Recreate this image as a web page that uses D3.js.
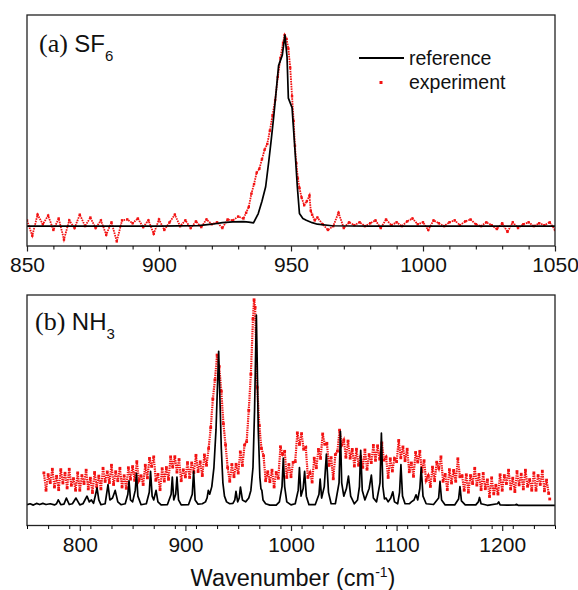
<!DOCTYPE html>
<html>
<head>
<meta charset="utf-8">
<script src="https://cdn.jsdelivr.net/npm/d3@7"></script>
<style>
  body { margin: 0; background: #fff; }
  svg { display: block; }
</style>
</head>
<body>
<div id="chart"></div>
<script>
// ---- panel (a) SF6 : [wavenumber, intensity] ----
var refA = [[850,0],[900,0],[915,.003],[920,.01],[924,.018],[928,.022],[932,.024],[934,.021],[935.8,.017],
  [937.6,.066],[939,.13],[940.4,.206],[941.5,.33],[942.5,.45],[943.5,.58],[944.3,.695],[945.3,.84],[946.7,.895],
  [947.7,1.0],[948.5,.886],[949,.67],[950.4,.62],[951.5,.40],[952.4,.206],[953.2,.066],[954.5,.04],[955.8,.031],
  [958,.018],[960,.01],[965.5,.002],[980,0],[1050,0]];

var expA = [[850,.03],[852,-.05],[854,.06],[856,.01],[858,.055],[860,-.02],[862,.04],[864,-.07],[866,.03],[868,-.01],
  [870,.06],[872,0],[874,.045],[876,-.01],[878,.03],[880,-.045],[882,.02],[884,-.08],[886,.03],[888,.035],
  [890,.015],[892,.04],[894,-.005],[896,.03],[898,-.04],[900,.035],[902,-.02],[904,.02],[906,.06],[908,0],
  [910,.03],[912,-.01],[914,.025],[916,-.005],[918,.035],[920,.01],[922,.02],[924,-.01],[926,.035],[928,.03],
  [930,.05],[932,.04],[933,.07],[934,.10],[935,.17],[936,.22],[937,.28],[938,.30],[939,.35],[940,.40],
  [941,.43],[942,.50],[943,.58],[944,.66],[945,.78],[946,.88],[947,.96],[947.6,1.0],[948.3,.98],[949,.93],
  [949.7,.83],[950.4,.68],[951,.55],[951.5,.42],[952,.33],[952.6,.25],[953.2,.20],[954,.15],[955,.11],[956,.13],
  [957,.16],[957.5,.08],[958,.06],[959,.03],[960,.045],[962,.01],[964,-.02],[966,0],[968,.07],[970,-.01],
  [972,.02],[974,.005],[976,.02],[978,0],[980,.015],[982,.03],[984,-.01],[986,.035],[988,.005],[990,.02],
  [992,0],[994,.025],[996,.04],[998,.01],[1000,.02],[1002,-.02],[1004,.03],[1006,.015],[1008,0],[1010,.02],
  [1012,.03],[1014,.005],[1016,.025],[1018,.035],[1020,.01],[1022,0],[1024,.02],[1026,.005],[1028,-.015],[1030,.015],
  [1032,-.03],[1034,.02],[1036,-.01],[1038,.01],[1040,.02],[1042,0],[1044,.015],[1046,.005],[1048,.02],[1050,-.02]];

// ---- panel (b) NH3 ----
var refB = [[750,.005],[753,.01],[756,.003],[759,.012],[762,.006],[765,.012],[768,.006],[772,.01],[776,.004],
  [778,.01],[779.6,.031],[782,.005],[785,.008],[787.3,.04],[790,.006],[793,.01],[796.4,.04],[800,.004],[803,.01],
  [806.8,.05],[809,.02],[811,.03],[813,.012],[815,.06],[816.3,.094],[818,.03],[820,.005],[824,.01],[826.7,.11],
  [828.5,.03],[831,.04],[833.5,.08],[836,.02],[839,.005],[843,.01],[845.5,.06],[846.6,.13],[848,.03],[850,.02],
  [852.5,.08],[853.7,.17],[855,.05],[858,.005],[863,.01],[865.8,.07],[867,.18],[868.5,.05],[870,.03],[872.2,.08],
  [874,.02],[877,.004],[883,.006],[886.5,.06],[887.6,.15],[889,.03],[890.8,.06],[892,.15],[893.5,.03],[896,.004],
  [903,.006],[906.5,.06],[907.8,.18],[909.2,.03],[912,.008],[916,.01],[919,.02],[920.5,.04],[921.7,.08],[923,.06],
  [925,.1],[927,.2],[929,.4],[930.5,.65],[931.5,.81],[932.5,.6],[934,.3],[935.5,.12],[937,.05],[939,.02],
  [942,.01],[945,.012],[946.8,.03],[947.9,.075],[949.5,.02],[951,.04],[952.1,.098],[954,.03],[957,.02],[960,.04],
  [962,.08],[964,.2],[965.5,.5],[966.5,.8],[967.2,1.0],[968,.75],[969,.4],[970.5,.15],[971.5,.09],[972.4,.08],
  [973.5,.03],[976,.01],[980,.003],[986,.003],[989,.02],[991.5,.1],[992.7,.25],[994,.1],[996,.02],[1000,.004],
  [1004,.01],[1006.8,.08],[1008,.2],[1009.5,.05],[1011.5,.09],[1012.9,.18],[1014.5,.05],[1017,.005],[1023,.006],
  [1026.5,.06],[1027.6,.14],[1029,.04],[1031.5,.1],[1033.5,.27],[1035.5,.07],[1038,.01],[1042,.01],[1045.5,.12],
  [1046.8,.39],[1048,.12],[1050,.05],[1052.5,.09],[1054.4,.155],[1056.5,.05],[1060,.01],[1063,.03],[1064.8,.1],
  [1066,.29],[1067.5,.08],[1070,.03],[1074,.09],[1076.1,.16],[1078,.04],[1081,.02],[1084.3,.12],[1085.6,.38],
  [1087,.1],[1088.5,.035],[1090,.04],[1092,.02],[1094.5,.04],[1096.4,.073],[1098,.02],[1101,.01],[1102.8,.07],
  [1104.1,.215],[1105.6,.05],[1108,.01],[1112,.01],[1114,.02],[1116.5,.03],[1118.4,.057],[1120,.03],[1122,.09],
  [1123.3,.2],[1125,.05],[1128,.01],[1135,.006],[1139.8,.04],[1141.1,.127],[1142.6,.03],[1146,.004],[1155,.004],
  [1158.7,.035],[1160,.1],[1161.4,.025],[1165,.004],[1175,.004],[1177.4,.02],[1178.5,.043],[1180,.01],[1186,.002],
  [1195.5,.01],[1196.7,.02],[1198,.004],[1205,.003],[1212.5,.004],[1213.5,.007],[1215,.002],[1250,.002]];

var expB = [[766,.172],[768,.081],[770,.163],[772,.121],[774,.191],[776,.098],[778,.154],[780,.084],[782,.189],[784,.119],
  [786,.17],[788,.093],[790,.191],[792,.107],[794,.142],[796,.081],[798,.172],[800,.081],[802,.158],[804,.116],
  [806,.186],[808,.088],[810,.144],[812,.069],[814,.174],[816,.099],[818,.155],[820,.088],[822,.196],[824,.127],
  [826,.177],[828,.121],[830,.212],[832,.111],[834,.178],[836,.131],[838,.196],[840,.098],[842,.157],[844,.091],
  [846,.199],[848,.139],[850,.205],[852,.133],[854,.231],[856,.132],[858,.157],[860,.111],[862,.212],[864,.146],
  [866,.248],[868,.206],[870,.256],[872,.133],[874,.164],[876,.084],[878,.194],[880,.129],[882,.20],[884,.138],
  [886,.256],[888,.202],[890,.257],[892,.176],[894,.242],[896,.131],[898,.188],[900,.151],[902,.226],[904,.148],
  [906,.224],[908,.174],[910,.264],[912,.179],[914,.23],[916,.158],[918,.266],[920,.212],[922,.30],[924,.41],
  [926,.56],[928,.66],[930,.79],[932,.73],[934,.60],[936,.43],[938,.32],[940,.20],[942,.128],[944,.216],
  [946,.152],[948,.217],[950,.171],[952,.282],[954,.211],[956,.318],[958,.336],[960,.50],[962,.69],[964,.98],
  [965,1.08],[966,1.04],[968,.62],[970,.42],[972,.30],[974,.262],[976,.131],[978,.178],[980,.126],[982,.186],
  [984,.098],[986,.174],[988,.144],[990,.309],[992,.269],[994,.285],[996,.148],[998,.216],[1000,.152],[1002,.227],
  [1004,.231],[1006,.382],[1008,.321],[1010,.378],[1012,.296],[1014,.306],[1016,.148],[1018,.174],[1020,.124],[1022,.249],
  [1024,.199],[1026,.295],[1028,.248],[1030,.376],[1032,.322],[1034,.327],[1036,.211],[1038,.252],[1040,.141],[1042,.268],
  [1044,.286],[1046,.396],[1048,.318],[1050,.344],[1052,.254],[1054,.339],[1056,.249],[1058,.295],[1060,.208],[1062,.296],
  [1064,.212],[1066,.257],[1068,.201],[1070,.292],[1072,.191],[1074,.268],[1076,.226],[1078,.316],[1080,.238],[1082,.314],
  [1084,.244],[1086,.329],[1088,.239],[1090,.255],[1092,.148],[1094,.246],[1096,.182],[1098,.247],[1100,.231],[1102,.342],
  [1104,.251],[1106,.308],[1108,.236],[1110,.296],[1112,.178],[1114,.224],[1116,.154],[1118,.279],[1120,.229],[1122,.285],
  [1124,.178],[1126,.236],[1128,.132],[1130,.157],[1132,.101],[1134,.202],[1136,.131],[1138,.228],[1140,.196],[1142,.256],
  [1144,.128],[1146,.164],[1148,.084],[1150,.189],[1152,.119],[1154,.185],[1156,.128],[1158,.246],[1160,.152],[1162,.157],
  [1164,.081],[1166,.162],[1168,.071],[1170,.158],[1172,.116],[1174,.196],[1176,.108],[1178,.164],[1180,.084],[1182,.169],
  [1184,.089],[1186,.135],[1188,.048],[1190,.146],[1192,.062],[1194,.107],[1196,.061],[1198,.162],[1200,.081],[1202,.158],
  [1204,.116],[1206,.186],[1208,.088],[1210,.144],[1212,.074],[1214,.179],[1216,.109],[1218,.165],[1220,.088],[1222,.186],
  [1224,.102],[1226,.137],[1228,.081],[1230,.172],[1232,.081],[1234,.158],[1236,.111],[1238,.181],[1240,.078],[1242,.134],
  [1244,.064]];
var strayB = [[1245,.035]];

var ticksA = [850, 900, 950, 1000, 1050];
var ticksB = [800, 900, 1000, 1100, 1200];

var width = 578, height = 590;
var left = 27, right = 555;
var red = "#f21212";

var svg = d3.select("#chart")
    .append("svg")
    .attr("width", width)
    .attr("height", height)
    .style("font-family", "'Liberation Sans', Arial, sans-serif");

function drawPanel(p) {
    var x = d3.scaleLinear().domain(p.domain).range([left, right]);
    var y = d3.scaleLinear().domain([-0.104, 1.105]).range([p.bottom, p.top]);
    var g = svg.append("g");

    g.append("clipPath").attr("id", p.id)
        .append("rect")
        .attr("x", left).attr("y", p.top - 2)
        .attr("width", right - left).attr("height", p.bottom - p.top + 2);

    var plot = g.append("g").attr("clip-path", "url(#" + p.id + ")");
    var line = d3.line()
        .x(function (d) { return x(d[0]); })
        .y(function (d) { return y(d[1]); });

    // experiment: dotted red trace + square markers
    plot.append("path")
        .datum(p.exp)
        .attr("d", line)
        .attr("fill", "none")
        .attr("stroke", red)
        .attr("stroke-width", p.dotW)
        .attr("stroke-dasharray", p.dash);
    plot.selectAll(".dot")
        .data(p.exp.concat(p.stray))
        .enter()
        .append("rect")
        .attr("class", "dot")
        .attr("x", function (d) { return x(d[0]) - p.dotS / 2; })
        .attr("y", function (d) { return y(d[1]) - p.dotS / 2; })
        .attr("width", p.dotS)
        .attr("height", p.dotS)
        .attr("fill", red);

    // reference line
    plot.append("path")
        .datum(p.ref)
        .attr("d", line)
        .attr("fill", "none")
        .attr("stroke", "#000")
        .attr("stroke-width", 1.7)
        .attr("stroke-linejoin", "round");

    // frame
    g.append("rect")
        .attr("x", left).attr("y", p.top)
        .attr("width", right - left).attr("height", p.bottom - p.top)
        .attr("fill", "none")
        .attr("stroke", "#222")
        .attr("stroke-width", 1.3);

    // minor ticks
    g.append("g")
        .attr("transform", "translate(0," + p.bottom + ")")
        .call(d3.axisBottom(x).tickValues(d3.range(p.domain[0], p.domain[1] + 1, p.minor)).tickSize(3.5).tickFormat(""))
        .call(function (a) { a.select(".domain").remove(); });

    // major ticks + labels
    var ax = g.append("g")
        .attr("transform", "translate(0," + p.bottom + ")")
        .call(d3.axisBottom(x).tickValues(p.ticks).tickSize(5.5).tickPadding(6).tickFormat(d3.format("d")));
    ax.select(".domain").remove();
    ax.selectAll(".tick line").attr("stroke", "#222").attr("stroke-width", 1.2);
    ax.selectAll(".tick text")
        .attr("font-size", 21)
        .attr("font-family", "'Liberation Sans', Arial, sans-serif")
        .attr("fill", "#111");

    // panel label
    var t = g.append("text")
        .attr("x", p.labelX)
        .attr("y", p.labelY)
        .attr("fill", "#111");
    t.append("tspan")
        .attr("font-family", "'Liberation Serif', 'Times New Roman', serif")
        .attr("font-size", 26)
        .text(p.tag + " ");
    t.append("tspan")
        .attr("font-size", 24)
        .text(p.species);
    t.append("tspan")
        .attr("font-size", 15)
        .attr("dy", 9)
        .text(p.sub);
}

drawPanel({ id: "clipA", domain: [850, 1050], top: 15, bottom: 246, ticks: ticksA, minor: 10,
    ref: refA, exp: expA, stray: [], dotW: 1.8, dash: "1.6,0.9", dotS: 2.4,
    tag: "(a)", species: "SF", sub: "6", labelX: 39, labelY: 52 });
drawPanel({ id: "clipB", domain: [750, 1250], top: 295, bottom: 525.5, ticks: ticksB, minor: 20,
    ref: refB, exp: expB, stray: strayB, dotW: 2.2, dash: "1.4,0.9", dotS: 2.8,
    tag: "(b)", species: "NH", sub: "3", labelX: 35, labelY: 330 });

// legend
var lg = svg.append("g").attr("font-size", 19.5).attr("fill", "#111");
lg.append("line")
    .attr("x1", 359).attr("x2", 404).attr("y1", 58).attr("y2", 58)
    .attr("stroke", "#000").attr("stroke-width", 1.8);
lg.append("text").attr("x", 409).attr("y", 65).text("reference");
lg.append("rect")
    .attr("x", 379.5).attr("y", 81).attr("width", 3).attr("height", 3)
    .attr("fill", red);
lg.append("text").attr("x", 409).attr("y", 89).text("experiment");

// x axis title
var title = svg.append("text")
    .attr("x", 293)
    .attr("y", 586)
    .attr("text-anchor", "middle")
    .attr("font-size", 23.5)
    .attr("fill", "#111");
title.append("tspan").text("Wavenumber (cm");
title.append("tspan").attr("font-size", 14).attr("dy", -9).text("-1");
title.append("tspan").attr("dy", 9).text(")");
</script>
</body>
</html>
